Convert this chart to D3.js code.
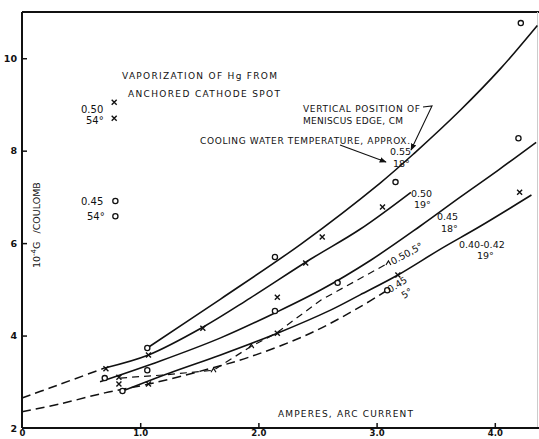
<!DOCTYPE html>
<html>
<head>
<meta charset="utf-8">
<script src="https://cdn.jsdelivr.net/npm/d3@7"></script>
<style>
  body { margin: 0; background: #fff; }
  svg text { font-family: "DejaVu Sans", sans-serif; fill: #111; }
</style>
</head>
<body>
<script>
// axis ticks
const xTicks = [0, 1, 2, 3, 4];
const xTickLabels = ["0", "1.0", "2.0", "3.0", "4.0"];
const yTicks = [2, 4, 6, 8, 10];

// curves, [amperes, 10^-4 g/coulomb]
const curve055 = [[1.06, 3.73], [1.68, 4.79], [2.36, 5.98], [3.03, 7.30], [3.33, 7.97], [3.71, 8.88], [4.05, 9.78], [4.36, 10.71]];
const curve050 = [[0.70, 3.30], [1.07, 3.58], [1.53, 4.18], [1.93, 4.81], [2.44, 5.65], [2.86, 6.30], [3.29, 7.10]];
const curve050Dash = [[0, 2.65], [0.24, 2.87], [0.70, 3.30]];
const curve045 = [[0.66, 3.00], [1.17, 3.45], [1.68, 3.95], [2.14, 4.49], [2.53, 4.99], [2.95, 5.63], [3.37, 6.37], [3.71, 7.00], [4.03, 7.58], [4.35, 8.18]];
const curve040 = [[0.85, 2.80], [1.25, 3.19], [1.68, 3.58], [2.16, 4.05], [2.61, 4.55], [2.86, 4.88], [3.18, 5.31], [3.54, 5.87], [3.88, 6.37], [4.31, 7.04]];
const dash045 = [[0, 2.35], [0.32, 2.52], [0.70, 2.76], [1.07, 2.95], [1.51, 3.23], [1.93, 3.54], [2.44, 4.05], [2.86, 4.62], [3.09, 4.98]];
const dash050 = [[0.83, 3.08], [1.21, 3.15], [1.62, 3.25], [1.94, 3.77], [2.15, 4.05], [2.53, 4.77], [3.10, 5.57]];

// measured points
const crossPts = [[0.78, 9.05], [0.78, 8.70], [0.71, 3.28], [1.07, 3.58], [0.82, 3.10], [0.82, 2.95], [1.07, 2.95],
  [1.53, 4.16], [2.16, 4.83], [2.16, 4.05], [2.40, 5.57], [2.54, 6.13], [3.05, 6.78], [3.18, 5.31], [4.21, 7.10]];
const circlePts = [[0.79, 6.91], [0.79, 6.58], [0.70, 3.08], [1.06, 3.73], [1.06, 3.25], [0.85, 2.80], [2.14, 5.70],
  [2.14, 4.53], [2.67, 5.14], [3.16, 7.32], [4.20, 8.27], [4.22, 10.76], [3.09, 4.98]];
const wedgePts = [[1.62, 3.25], [1.94, 3.77], [3.10, 5.57]];

const W = 539, H = 439;
const svg = d3.select("body").append("svg")
    .attr("width", W)
    .attr("height", H);

const x = d3.scaleLinear().domain([0, 4.4]).range([22, 22 + 4.4 * 118.2]);
const y = d3.scaleLinear().domain([2, 11]).range([428, 12]);

svg.append("defs").append("marker")
    .attr("id", "arr")
    .attr("viewBox", "0 0 10 10")
    .attr("refX", 9).attr("refY", 5)
    .attr("markerWidth", 7).attr("markerHeight", 7)
    .attr("markerUnits", "userSpaceOnUse")
    .attr("orient", "auto")
    .append("path").attr("d", "M0,1L10,5L0,9Z").attr("fill", "#111");

// frame
svg.append("line").attr("x1", 22).attr("x2", W).attr("y1", 12).attr("y2", 12)
    .attr("stroke", "#111").attr("stroke-width", 1.8);
svg.append("line").attr("x1", 537.5).attr("x2", 537.5).attr("y1", 12).attr("y2", 428)
    .attr("stroke", "#ccc").attr("stroke-width", 1);

// axes
const xAxis = d3.axisBottom(x).tickValues(xTicks)
    .tickFormat((d, i) => xTickLabels[i])
    .tickSizeInner(-5).tickSizeOuter(0).tickPadding(1.5);
const gx = svg.append("g").attr("transform", "translate(0,428)").call(xAxis);

const yAxis = d3.axisLeft(y).tickValues(yTicks)
    .tickSizeInner(-5).tickSizeOuter(0).tickPadding(5);
const gy = svg.append("g").attr("transform", "translate(22,0)").call(yAxis);

[gx, gy].forEach(g => {
  g.select(".domain").attr("stroke", "#111").attr("stroke-width", 2);
  g.selectAll(".tick line").attr("stroke", "#111").attr("stroke-width", 1.5);
  g.selectAll(".tick text").attr("font-size", 9.5).attr("font-weight", "bold")
    .attr("font-family", "DejaVu Sans, sans-serif").attr("fill", "#111");
});
gx.selectAll(".tick text").attr("font-size", 8.5);
gx.select(".domain").attr("d", `M22,0H${W}`);
gy.select(".domain").attr("d", "M0,12V428");
gx.selectAll(".tick").filter(d => d === 0).select("line").remove();
gy.selectAll(".tick").filter(d => d === 2).select("line").remove();

// curves
const smooth = d3.line().x(d => x(d[0])).y(d => y(d[1])).curve(d3.curveCatmullRom.alpha(0.5));
const straight = d3.line().x(d => x(d[0])).y(d => y(d[1]));

const solids = [curve055, curve050, curve045, curve040];
svg.selectAll("path.solid").data(solids).join("path")
    .attr("class", "solid")
    .attr("d", smooth)
    .attr("fill", "none").attr("stroke", "#111").attr("stroke-width", 1.6);

svg.selectAll("path.dash").data([curve050Dash, dash045]).join("path")
    .attr("class", "dash")
    .attr("d", smooth)
    .attr("fill", "none").attr("stroke", "#111").attr("stroke-width", 1.5)
    .attr("stroke-dasharray", "9,5");

svg.append("path").datum(dash050)
    .attr("d", straight)
    .attr("fill", "none").attr("stroke", "#111").attr("stroke-width", 1.2)
    .attr("stroke-dasharray", "7,5");

// markers
svg.selectAll("path.cross").data(crossPts).join("path")
    .attr("class", "cross")
    .attr("transform", d => `translate(${x(d[0])},${y(d[1])})`)
    .attr("d", "M-2.5,-2.5L2.5,2.5M-2.5,2.5L2.5,-2.5")
    .attr("stroke", "#111").attr("stroke-width", 1.4);

svg.selectAll("circle.pt").data(circlePts).join("circle")
    .attr("class", "pt")
    .attr("cx", d => x(d[0])).attr("cy", d => y(d[1])).attr("r", 2.6)
    .attr("fill", "#fff").attr("stroke", "#111").attr("stroke-width", 1.3);

svg.selectAll("path.wedge").data(wedgePts).join("path")
    .attr("class", "wedge")
    .attr("transform", d => `translate(${x(d[0])},${y(d[1])})`)
    .attr("d", "M-2.5,2L0,-2L2.5,2")
    .attr("fill", "none").attr("stroke", "#111").attr("stroke-width", 1.2);

// text
function label(t, px, py, len, size, rot) {
  const el = svg.append("text")
      .attr("x", px).attr("y", py)
      .attr("font-size", size || 9)
      .text(t);
  if (len) el.attr("textLength", len).attr("lengthAdjust", "spacing");
  if (rot) el.attr("transform", `rotate(${rot},${px},${py})`);
  return el;
}

label("VAPORIZATION OF Hg FROM", 122, 78.5, 155);
label("ANCHORED CATHODE SPOT", 128, 96.5, 152);
label("VERTICAL POSITION OF", 303, 111.5, 117);
label("MENISCUS EDGE, CM", 303, 123.5, 100);
label("COOLING WATER TEMPERATURE, APPROX.", 200, 143.5, 210);
label("AMPERES, ARC CURRENT", 278, 416.5, 135);

label("0.55", 390, 154.5, null, 9.5);
label("18°", 393, 167, null, 9.5);
label("0.50", 411, 196.5, null, 9.5);
label("19°", 414, 208, null, 9.5);
label("0.45", 437, 220, null, 9.5);
label("18°", 441, 231.5, null, 9.5);
label("0.40-0.42", 459, 248, null, 9.5);
label("19°", 477, 259, null, 9.5);
label("0.50", 81, 112.5, null, 10);
label("54°", 86, 123.5, null, 10);
label("0.45", 81, 204.5, null, 10);
label("54°", 87, 219.5, null, 10);
label("0.50,5°", 393, 265, null, 9.5, -29);
label("0.45", 390, 293, null, 9.5, -32);
label("5°", 404, 299, null, 9.5, -32);

// y axis title
const yt = svg.append("text")
    .attr("transform", "translate(40,268) rotate(-90)")
    .attr("font-size", 9.5);
yt.append("tspan").text("10");
yt.append("tspan").attr("dy", -4).attr("font-size", 7).text("-4");
yt.append("tspan").attr("dy", 4).text("G");
yt.append("tspan").attr("dx", 8).text("/COULOMB");

// arrows
svg.append("path")
    .attr("d", "M340,145L386,162")
    .attr("fill", "none").attr("stroke", "#111").attr("stroke-width", 1.1)
    .attr("marker-end", "url(#arr)");
svg.append("path")
    .attr("d", "M423,107L432,106L411,150")
    .attr("fill", "none").attr("stroke", "#111").attr("stroke-width", 1.1)
    .attr("marker-end", "url(#arr)");
</script>
</body>
</html>
